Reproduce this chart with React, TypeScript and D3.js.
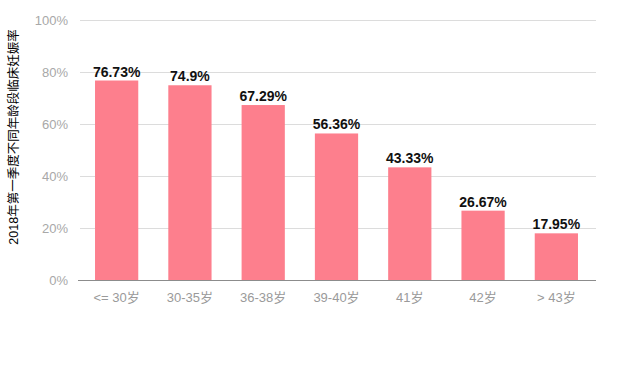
import React, { useEffect, useRef } from 'react';
import * as d3 from 'd3';

const categories = ['<= 30岁', '30-35岁', '36-38岁', '39-40岁', '41岁', '42岁', '> 43岁'];
const rates = [76.73, 74.9, 67.29, 56.36, 43.33, 26.67, 17.95];
const rateLabels = ['76.73%', '74.9%', '67.29%', '56.36%', '43.33%', '26.67%', '17.95%'];
const yTicks = [0, 20, 40, 60, 80, 100];
const yTitle = '2018年第一季度不同年龄段临床妊娠率';

function App() {
    const ref = useRef<SVGSVGElement>(null);

    useEffect(() => {
        const svg = d3.select(ref.current);
        svg.selectAll('*').remove();

        const left = 80, right = 596, top = 20, bottom = 280;
        const font = 'Helvetica, Arial, "Liberation Sans", "Noto Sans CJK SC", sans-serif';

        // band range a bit shorter than the grid lines
        const x = d3.scaleBand<string>().domain(categories).range([left, 593]).paddingInner(0.41).paddingOuter(0.205);
        const y = d3.scaleLinear().domain([0, 100]).range([bottom, top]);

        // grid lines + tick labels
        const g = svg.append('g');
        g.selectAll('line.grid')
            .data(yTicks.filter(t => t > 0))
            .enter()
            .append('line')
            .attr('x1', left)
            .attr('x2', right)
            .attr('y1', d => y(d) + 0.5)
            .attr('y2', d => y(d) + 0.5)
            .attr('stroke', '#dcdcdc')
            .attr('stroke-width', 1);

        g.selectAll('text.tick')
            .data(yTicks)
            .enter()
            .append('text')
            .attr('x', 68)
            .attr('y', d => y(d))
            .attr('dy', '0.35em')
            .attr('text-anchor', 'end')
            .style('font-size', '13px')
            .style('font-family', font)
            .style('fill', '#a8a8a8')
            .text(d => d + '%');

        // bars
        svg.selectAll('rect')
            .data(rates)
            .enter()
            .append('rect')
            .attr('x', (d, i) => x(categories[i])!)
            .attr('width', x.bandwidth())
            .attr('y', d => y(d))
            .attr('height', d => bottom - y(d))
            .attr('fill', '#fd7f8d');

        // value labels
        svg.selectAll('text.val')
            .data(rates)
            .enter()
            .append('text')
            .attr('x', (d, i) => x(categories[i])! + x.bandwidth() / 2)
            .attr('y', d => y(d) - 4)
            .attr('text-anchor', 'middle')
            .style('font-size', '14px')
            .style('font-weight', 'bold')
            .style('font-family', font)
            .style('fill', '#111')
            .text((d, i) => rateLabels[i]);

        // x axis line
        svg.append('line')
            .attr('x1', left - 2)
            .attr('x2', right)
            .attr('y1', bottom + 0.5)
            .attr('y2', bottom + 0.5)
            .attr('stroke', '#8c8c8c')
            .attr('stroke-width', 1);

        // category labels
        svg.selectAll('text.cat')
            .data(categories)
            .enter()
            .append('text')
            .attr('x', d => x(d)! + x.bandwidth() / 2)
            .attr('y', 302)
            .attr('text-anchor', 'middle')
            .style('font-size', '13px')
            .style('font-family', font)
            .style('fill', '#9a9a9a')
            .text(d => d);

        // y title
        svg.append('text')
            .attr('transform', 'translate(18, 137) rotate(-90)')
            .attr('text-anchor', 'middle')
            .style('font-size', '12.5px')
            .style('font-family', font)
            .style('fill', '#000')
            .text(yTitle);
    }, []);

    return (
        <svg ref={ref} width={640} height={368} style={{ position: 'absolute', left: 0, top: 0, background: '#fff' }}></svg>
    );
}

export default App;
